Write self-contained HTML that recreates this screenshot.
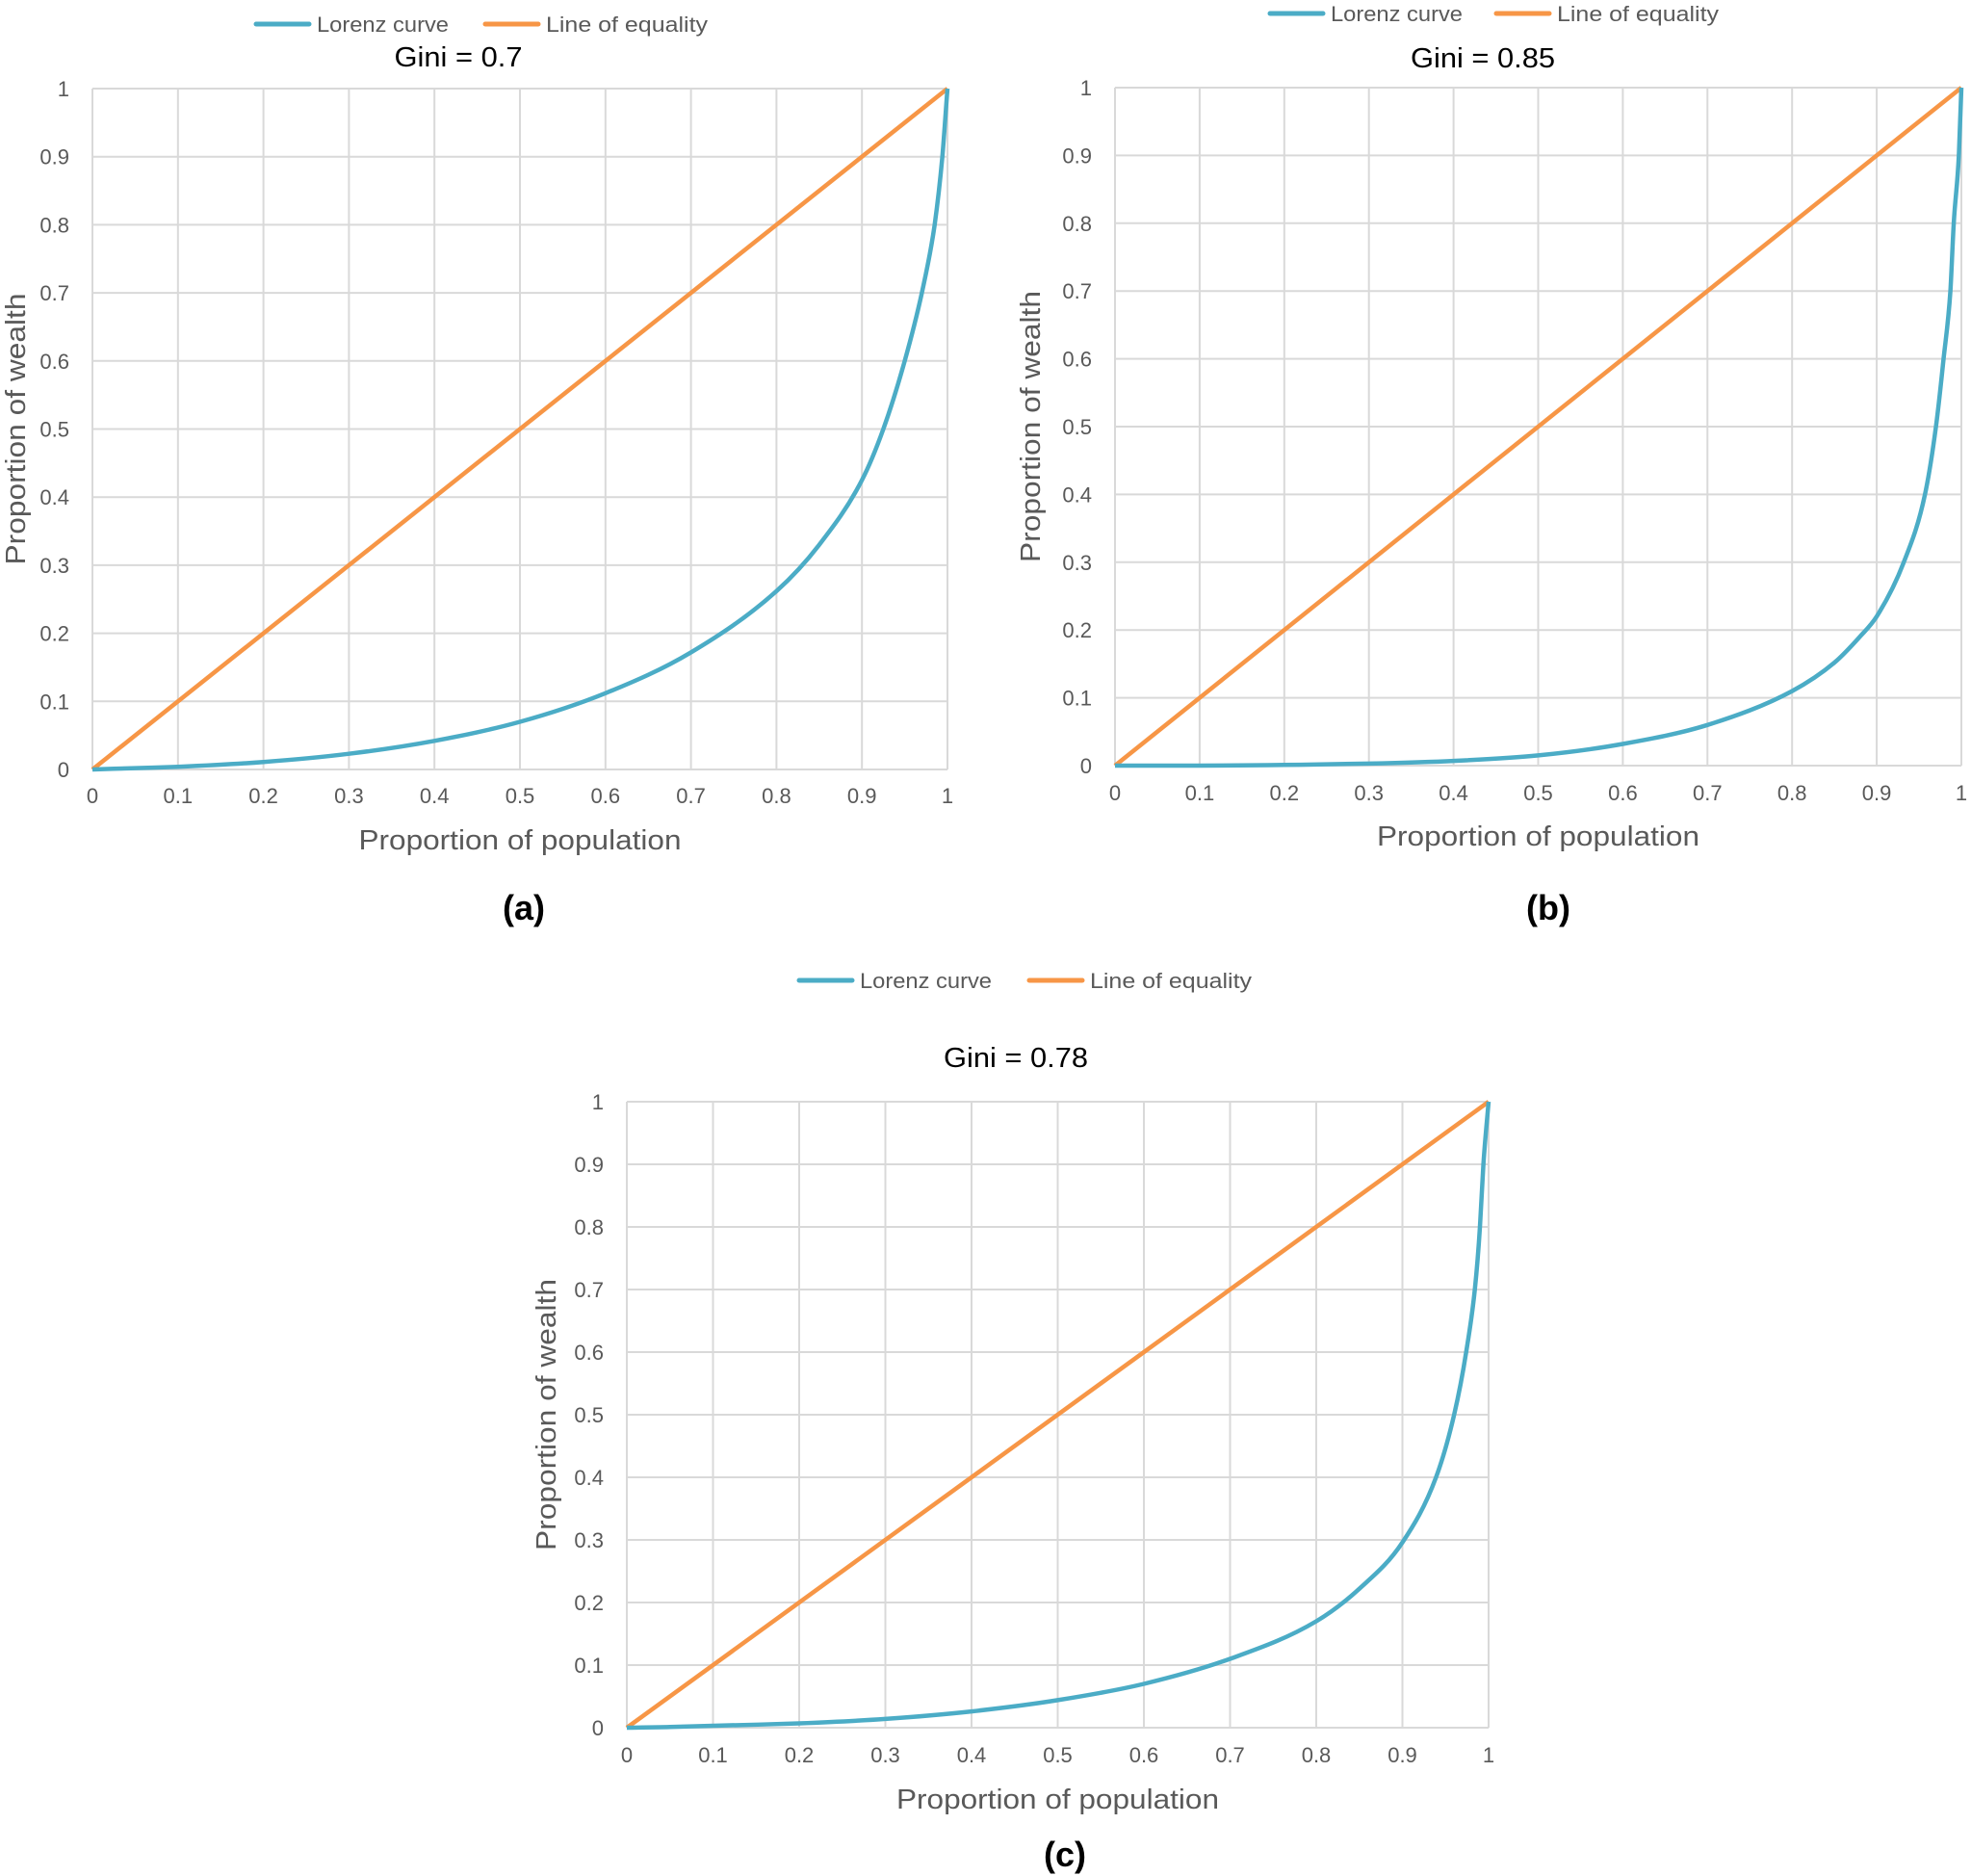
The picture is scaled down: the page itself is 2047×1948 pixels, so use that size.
<!DOCTYPE html>
<html><head><meta charset="utf-8"><style>
html,body{margin:0;padding:0;background:#fff;}
svg{display:block;}
text{font-family:"Liberation Sans",sans-serif;}
</style></head><body>
<svg id="root" width="2047" height="1948" viewBox="0 0 2047 1948"></svg>
<script>
const xTicks=[0,0.1,0.2,0.3,0.4,0.5,0.6,0.7,0.8,0.9,1];
const yTicks=[0,0.1,0.2,0.3,0.4,0.5,0.6,0.7,0.8,0.9,1];
const tickLabels=["0","0.1","0.2","0.3","0.4","0.5","0.6","0.7","0.8","0.9","1"];
const equalityX=[0,1];
const equalityY=[0,1];
const lorenzAx=[0,0.05,0.1,0.2,0.3,0.4,0.5,0.6,0.7,0.8,0.85,0.9,0.925,0.95,0.97,0.985,0.994,1];
const lorenzAy=[0,0.002,0.004,0.011,0.023,0.042,0.07,0.112,0.172,0.262,0.33,0.425,0.5,0.6,0.7,0.8,0.9,1];
const lorenzBx=[0,0.1,0.2,0.3,0.4,0.5,0.6,0.7,0.8,0.85,0.88,0.9,0.932,0.957,0.97,0.979,0.987,0.991,0.997,1];
const lorenzBy=[0,0,0.001,0.003,0.007,0.015,0.032,0.06,0.11,0.152,0.19,0.22,0.3,0.4,0.5,0.6,0.7,0.8,0.9,1];
const lorenzCx=[0,0.05,0.1,0.2,0.3,0.4,0.5,0.6,0.7,0.8,0.85,0.9,0.939,0.96,0.974,0.984,0.99,0.994,1];
const lorenzCy=[0,0.001,0.003,0.007,0.014,0.026,0.044,0.07,0.11,0.17,0.222,0.296,0.4,0.5,0.6,0.7,0.8,0.9,1];

const NS="http://www.w3.org/2000/svg";
const root=document.getElementById('root');
function mk(tag,attrs,parent,txt){const e=document.createElementNS(NS,tag);for(const k in attrs)e.setAttribute(k,attrs[k]);if(txt!==undefined)e.textContent=txt;(parent||root).appendChild(e);return e;}

function monoPath(px,py){
 const n=px.length,d=[],m=[];
 for(let i=0;i<n-1;i++)d.push((py[i+1]-py[i])/(px[i+1]-px[i]));
 m[0]=d[0];m[n-1]=d[n-2];
 for(let i=1;i<n-1;i++){m[i]=(d[i-1]*d[i]<=0)?0:(d[i-1]+d[i])/2;}
 for(let i=0;i<n-1;i++){
  if(d[i]===0){m[i]=0;m[i+1]=0;continue;}
  const a=m[i]/d[i],b=m[i+1]/d[i],s=a*a+b*b;
  if(s>9){const t=3/Math.sqrt(s);m[i]=t*a*d[i];m[i+1]=t*b*d[i];}
 }
 let s='M'+px[0].toFixed(1)+','+py[0].toFixed(1);
 for(let i=0;i<n-1;i++){
  const h=(px[i+1]-px[i])/3;
  s+=' C'+(px[i]+h).toFixed(1)+','+(py[i]+m[i]*h).toFixed(1)+' '+(px[i+1]-h).toFixed(1)+','+(py[i+1]-m[i+1]*h).toFixed(1)+' '+px[i+1].toFixed(1)+','+py[i+1].toFixed(1);
 }
 return s;
}

const panels=[
 {id:'a',L:96,R:984,T:92,B:799,lx:266,ox:504,ly:25,ttlX:476,ttlY:69,title:'Gini = 0.7',xtY:834,xtlY:882,ytX:26,cap:'(a)',capX:544,capY:955,lx2:lorenzAx,ly2:lorenzAy},
 {id:'b',L:1158,R:2037,T:91,B:795,lx:1319,ox:1554,ly:14,ttlX:1540,ttlY:70,title:'Gini = 0.85',xtY:831,xtlY:878,ytX:1080,cap:'(b)',capX:1608,capY:955,lx2:lorenzBx,ly2:lorenzBy},
 {id:'c',L:651,R:1546,T:1144,B:1794,lx:830,ox:1069,ly:1018,ttlX:1055,ttlY:1108,title:'Gini = 0.78',xtY:1830,xtlY:1878,ytX:577,cap:'(c)',capX:1106,capY:1938,lx2:lorenzCx,ly2:lorenzCy}
];

panels.forEach(p=>{
 const g=mk('g',{});
 
 
 const sx=v=>p.L+v*(p.R-p.L);
 const sy=v=>p.B-v*(p.B-p.T);
 xTicks.forEach((t,i)=>{
  const l=mk('line',{x1:sx(t),x2:sx(t),y1:p.T,y2:p.B,stroke:'#d9d9d9','stroke-width':2},g);
  
  
  const tx=mk('text',{x:sx(t),y:p.xtY,'text-anchor':'middle','font-size':22,fill:'#595959'},g,tickLabels[i]);
  
  
 });
 yTicks.forEach((t,i)=>{
  const l=mk('line',{x1:p.L,x2:p.R,y1:sy(t),y2:sy(t),stroke:'#d9d9d9','stroke-width':2},g);
  
  
  const tx=mk('text',{x:p.L-24,y:sy(t)+8,'text-anchor':'end','font-size':22,fill:'#595959'},g,tickLabels[i]);
  
  
 });
 const eq=mk('polyline',{points:equalityX.map((x,i)=>sx(x)+','+sy(equalityY[i])).join(' '),fill:'none',stroke:'#f79646','stroke-width':4.5},g);
 
 
 const lz=mk('path',{d:monoPath(p.lx2.map(sx),p.ly2.map(sy)),fill:'none',stroke:'#4bacc6','stroke-width':4.5,'stroke-linejoin':'round'},g);
 
 
 const lg=mk('g',{},g);
 
 
 mk('line',{x1:p.lx,x2:p.lx+55,y1:p.ly,y2:p.ly,stroke:'#4bacc6','stroke-width':5,'stroke-linecap':'round'},lg);
 const t1=mk('text',{x:p.lx+63,y:p.ly+8,'font-size':22,fill:'#595959',textLength:137,lengthAdjust:'spacingAndGlyphs'},lg,'Lorenz curve');
 
 
 mk('line',{x1:p.ox,x2:p.ox+55,y1:p.ly,y2:p.ly,stroke:'#f79646','stroke-width':5,'stroke-linecap':'round'},lg);
 const t2=mk('text',{x:p.ox+63,y:p.ly+8,'font-size':22,fill:'#595959',textLength:168,lengthAdjust:'spacingAndGlyphs'},lg,'Line of equality');
 
 
 const tt=mk('text',{x:p.ttlX,y:p.ttlY,'text-anchor':'middle','font-size':29,fill:'#000',textLength:p.title.length>10?150:133,lengthAdjust:'spacingAndGlyphs'},g,p.title);
 
 
 const xt=mk('text',{x:(p.L+p.R)/2,y:p.xtlY,'text-anchor':'middle','font-size':29,fill:'#595959',textLength:335,lengthAdjust:'spacingAndGlyphs'},g,'Proportion of population');
 
 
 const cy=(p.T+p.B)/2;
 const yt=mk('text',{x:p.ytX,y:cy,'text-anchor':'middle','font-size':29,fill:'#595959',textLength:282,lengthAdjust:'spacingAndGlyphs',transform:'rotate(-90 '+p.ytX+' '+cy+')'},g,'Proportion of wealth');
 
 
 const cp=mk('text',{x:p.capX,y:p.capY,'text-anchor':'middle','font-size':36,'font-weight':'bold',fill:'#000'},g,p.cap);
 
 
});
</script>
</body></html>
